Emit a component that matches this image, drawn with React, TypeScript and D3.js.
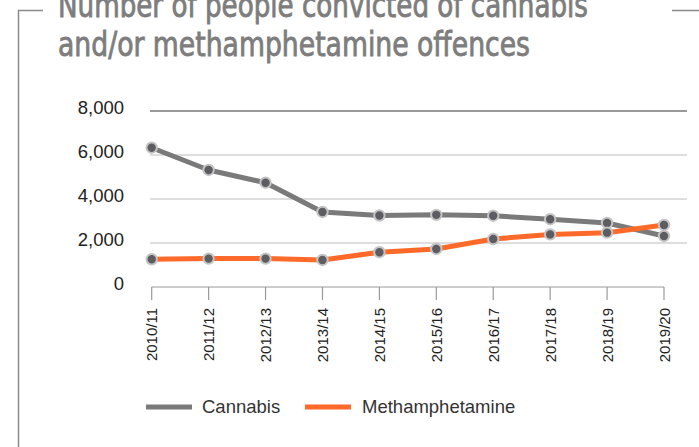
import React from "react";
import * as d3 from "d3";

const years = ["2010/11","2011/12","2012/13","2013/14","2014/15","2015/16","2016/17","2017/18","2018/19","2019/20"];
const cannabis = [6330, 5320, 4740, 3410, 3250, 3280, 3240, 3080, 2910, 2320];
const meth = [1260, 1290, 1290, 1230, 1580, 1730, 2180, 2390, 2470, 2820];
const yTicks = [0, 2000, 4000, 6000, 8000];
const titleLines = ["Number of people convicted of cannabis", "and/or methamphetamine offences"];
const seriesNames = ["Cannabis", "Methamphetamine"];

const GRAY = "#7a7a7a";
const ORANGE = "#ff6a2a";
const FONT = "'Liberation Sans', Arial, sans-serif";
const TFONT = "'Liberation Sans Narrow', 'DejaVu Sans Condensed', sans-serif";

export default function App() {
  const W = 699, H = 447;
  const x = d3.scalePoint<string>().domain(years).range([151.7, 664]);
  const y = d3.scaleLinear().domain([0, 8000]).range([287, 111]);
  const line = d3.line<number>().x((_, i) => x(years[i])!).y(d => y(d));
  const series = [
    { name: seriesNames[0], data: cannabis, color: GRAY },
    { name: seriesNames[1], data: meth, color: ORANGE },
  ];
  const fmt = d3.format(",");
  return (
    <svg width={W} height={H} style={{ position: "absolute", left: 0, top: 0, background: "#fff" }}>
      {/* frame */}
      <path d="M43,10.5 H18.5 V447" fill="none" stroke="#8a8a8a" strokeWidth={1.5} />
      <path d="M672,10.5 H699" fill="none" stroke="#8a8a8a" strokeWidth={1.5} />
      {/* title */}
      <text x={58} y={17} fill="#7d7d7d" stroke="#7d7d7d" strokeWidth={0.8} fontFamily={TFONT} fontSize={33}
        textLength={530} lengthAdjust="spacingAndGlyphs">{titleLines[0]}</text>
      <text x={58} y={56} fill="#7d7d7d" stroke="#7d7d7d" strokeWidth={0.8} fontFamily={TFONT} fontSize={33}
        textLength={472} lengthAdjust="spacingAndGlyphs">{titleLines[1]}</text>
      {/* grid */}
      {yTicks.filter(t => t > 0).map(t => (
        <line key={t} x1={150} x2={687} y1={y(t)} y2={y(t)}
          stroke={t === 8000 ? "#9a9a9a" : "#bdbdbd"} strokeWidth={t === 8000 ? 1.8 : 1.2} />
      ))}
      {yTicks.map(t => (
        <text key={"l" + t} x={124} y={y(t) - 3} dy="0.35em" textAnchor="end" fontFamily={FONT} fontSize={18.5} fill="#222">
          {fmt(t)}
        </text>
      ))}
      {/* x axis */}
      <line x1={x(years[0])} x2={x(years[years.length - 1])} y1={287} y2={287} stroke="#9a9a9a" strokeWidth={1.2} />
      {years.map(yr => (
        <g key={yr}>
          <line x1={x(yr)} x2={x(yr)} y1={287} y2={300} stroke="#9a9a9a" strokeWidth={1.2} />
          <text transform={`translate(${x(yr)! + 5.5},308) rotate(-90)`} textAnchor="end" fontFamily={FONT} fontSize={15} fill="#222">
            {yr}
          </text>
        </g>
      ))}
      {/* lines */}
      {series.map(s => (
        <path key={s.name} d={line(s.data)!} fill="none" stroke={s.color} strokeWidth={5} strokeLinejoin="round" />
      ))}
      {series.map(s => (
        <g key={"m" + s.name}>
          {s.data.map((v, i) => (
            <circle key={i} cx={x(years[i])} cy={y(v)} r={5.2} fill="#5d5c61" stroke="#c4c4c4" strokeWidth={2} />
          ))}
        </g>
      ))}
      {/* legend */}
      <line x1={146} x2={192} y1={407} y2={407} stroke={GRAY} strokeWidth={5} />
      <text x={202} y={407} dy="0.35em" fontFamily={FONT} fontSize={18.5} fill="#333">{seriesNames[0]}</text>
      <line x1={305} x2={351} y1={407} y2={407} stroke={ORANGE} strokeWidth={5} />
      <text x={362} y={407} dy="0.35em" fontFamily={FONT} fontSize={18.5} fill="#333">{seriesNames[1]}</text>
    </svg>
  );
}
